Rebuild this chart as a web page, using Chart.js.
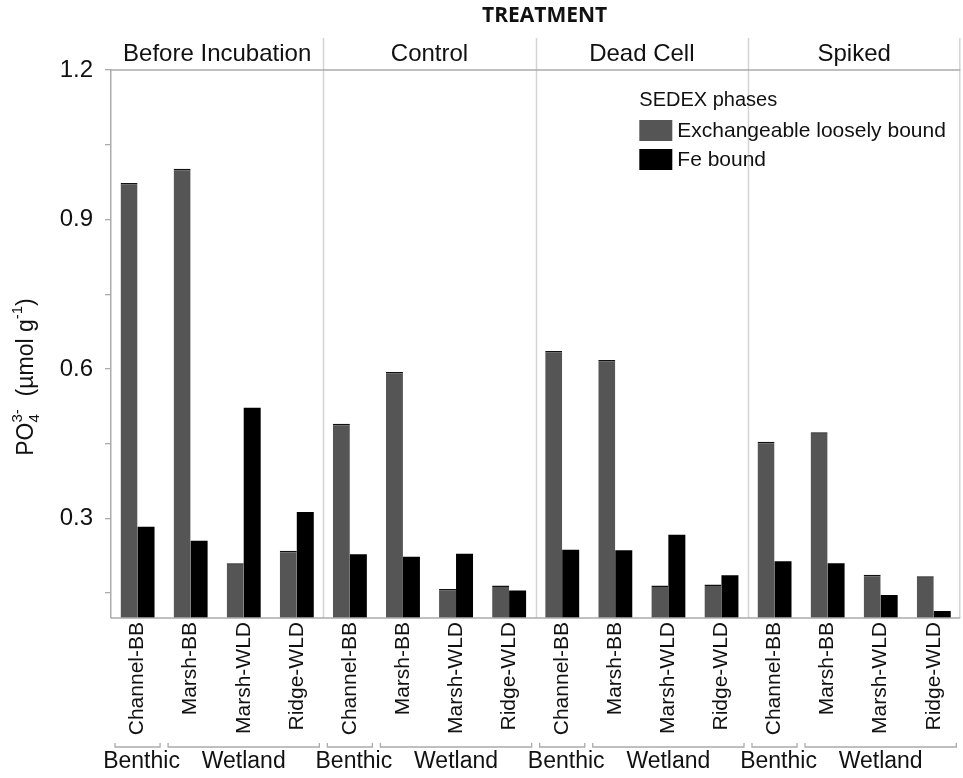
<!DOCTYPE html>
<html>
<head>
<meta charset="utf-8">
<script src="https://cdn.jsdelivr.net/npm/chart.js@4.4.1/dist/chart.umd.min.js"></script>
<style>
  html, body { margin: 0; padding: 0; background: #ffffff; }
  #wrap { width: 963px; height: 778px; position: relative; }
</style>
</head>
<body>
<div id="wrap"><canvas id="chart"></canvas></div>
<script>
// Treatments (facet panels) and sampling sites within each panel
const treatments = ['Before Incubation', 'Control', 'Dead Cell', 'Spiked'];
const sites = ['Channel-BB', 'Marsh-BB', 'Marsh-WLD', 'Ridge-WLD'];
const siteGroups = [['Benthic', 0, 0], ['Wetland', 1, 3]];

// PO4 3- (µmol g-1), ordered treatment by treatment, site by site
const exchangeable = [0.973, 1.002, 0.210, 0.235,
                      0.490, 0.594, 0.158, 0.165,
                      0.636, 0.618, 0.165, 0.167,
                      0.454, 0.473, 0.187, 0.184];
const feBound      = [0.283, 0.255, 0.522, 0.313,
                      0.228, 0.223, 0.229, 0.155,
                      0.237, 0.236, 0.267, 0.186,
                      0.214, 0.210, 0.146, 0.114];

// Y axis: tick marks every 0.15, labels every 0.3
const yTickValues = [0.15, 0.3, 0.45, 0.6, 0.75, 0.9, 1.05, 1.2];
const yTickLabels = ['', '0.3', '', '0.6', '', '0.9', '', '1.2'];

const seriesNames = ['Exchangeable loosely bound', 'Fe bound'];
const legendTitle = 'SEDEX phases';
const mainTitle = 'TREATMENT';

const FONT = '"Liberation Sans", Arial, Helvetica, sans-serif';
const TEXT = '#111111';
const FRAME = '#ababab';
const SEP = '#d4d4d4';

const labels = treatments.flatMap(() => sites);

// Panel frames, strip titles, site-group brackets, legend and y-axis title
const decorations = {
  id: 'decorations',
  afterDatasetsDraw(chart) {
    const { ctx, chartArea: a, scales: { x } } = chart;
    const step = x.getPixelForValue(1) - x.getPixelForValue(0);
    const edge = i => x.getPixelForValue(i) - step / 2;   // left edge of category i
    const n = sites.length;
    const stripTop = a.top - 32;

    ctx.save();
    // panel separators (run up through the strip header)
    ctx.strokeStyle = SEP;
    ctx.lineWidth = 1.5;
    for (let p = 1; p < treatments.length; p++) {
      const xe = Math.round(edge(p * n)) + 0.5;
      ctx.beginPath(); ctx.moveTo(xe, stripTop); ctx.lineTo(xe, a.bottom); ctx.stroke();
    }
    ctx.beginPath(); ctx.moveTo(a.right - 0.5, stripTop); ctx.lineTo(a.right - 0.5, a.bottom); ctx.stroke();

    // top and bottom frame lines
    ctx.strokeStyle = FRAME;
    ctx.lineWidth = 1.5;
    ctx.beginPath(); ctx.moveTo(a.left, a.top); ctx.lineTo(a.right, a.top); ctx.stroke();
    ctx.beginPath(); ctx.moveTo(a.left, a.bottom); ctx.lineTo(a.right, a.bottom); ctx.stroke();

    // strip titles
    ctx.fillStyle = TEXT;
    ctx.font = '24px ' + FONT;
    ctx.textAlign = 'center';
    ctx.textBaseline = 'alphabetic';
    treatments.forEach((t, p) => {
      const cx = (edge(p * n) + edge(p * n + n)) / 2;
      ctx.fillText(t, cx, a.top - 9);
    });

    // main title
    ctx.font = 'bold 21px "Open Sans", ' + FONT;
    ctx.fillText(mainTitle, (a.left + a.right) / 2 + 9, 22);

    // site-group brackets under the tick labels
    const by = 747;
    treatments.forEach((t, p) => {
      siteGroups.forEach(([name, i0, i1]) => {
        const l = edge(p * n + i0) + 4;
        const r = edge(p * n + i1 + 1) - 4;
        ctx.strokeStyle = FRAME;
        ctx.lineWidth = 1.3;
        ctx.beginPath();
        ctx.moveTo(l, by - 4); ctx.lineTo(l, by); ctx.lineTo(r, by); ctx.lineTo(r, by - 4);
        ctx.stroke();
        ctx.fillStyle = TEXT;
        ctx.font = '23px ' + FONT;
        ctx.textAlign = 'center';
        ctx.fillText(name, (l + r) / 2 + (i0 === i1 ? 4 : 0), by + 21);
      });
    });

    // legend
    const lx = a.right - 321;
    ctx.textAlign = 'left';
    ctx.textBaseline = 'middle';
    ctx.font = '20px ' + FONT;
    ctx.fillStyle = TEXT;
    ctx.fillText(legendTitle, lx, a.top + 30);
    chart.data.datasets.forEach((ds, i) => {
      const yTop = a.top + 50 + i * 29;
      ctx.fillStyle = ds.backgroundColor;
      ctx.fillRect(lx, yTop, 33, 21);
      ctx.fillStyle = TEXT;
      ctx.font = '21px ' + FONT;
      ctx.fillText(ds.label, lx + 38, yTop + 11);
    });

    // y-axis title: PO4(3-) (µmol g-1), rotated
    const big = '23px ' + FONT, small = '15px ' + FONT;
    const parts = [
      { t: 'PO', f: big, dy: 0 },
      { t: '4', f: small, dy: 6, stack: true },
      { t: '3-', f: small, dy: -11 },
      { t: '  (\u00b5mol g', f: big, dy: 0 },
      { t: '-1', f: small, dy: -11 },
      { t: ')', f: big, dy: 0 }
    ];
    let total = 0;
    parts.forEach(pt => {
      ctx.font = pt.f;
      pt.w = ctx.measureText(pt.t).width;
      if (!pt.stack) total += pt.w;
    });
    ctx.translate(33, 377);
    ctx.rotate(-Math.PI / 2);
    ctx.fillStyle = TEXT;
    ctx.textBaseline = 'alphabetic';
    let cx = -total / 2;
    parts.forEach(pt => {
      ctx.font = pt.f;
      ctx.fillText(pt.t, cx, pt.dy);
      if (!pt.stack) cx += pt.w;
    });
    ctx.restore();
  }
};

new Chart(document.getElementById('chart'), {
  type: 'bar',
  data: {
    labels: labels,
    datasets: [
      {
        label: seriesNames[0],
        data: exchangeable,
        backgroundColor: '#555555',
        borderColor: '#111111',
        borderWidth: { top: 1.5, left: 0, right: 0, bottom: 0 },
        borderSkipped: 'bottom'
      },
      {
        label: seriesNames[1],
        data: feBound,
        backgroundColor: '#000000',
        borderWidth: 0
      }
    ]
  },
  options: {
    responsive: true,
    maintainAspectRatio: false,
    animation: false,
    layout: { padding: { top: 70, right: 1, left: 0, bottom: 0 } },
    datasets: { bar: { barPercentage: 1.0, categoryPercentage: 0.64 } },
    plugins: {
      legend: { display: false },
      tooltip: { enabled: false },
      title: { display: false }
    },
    scales: {
      x: {
        type: 'category',
        grid: { display: false, drawTicks: false },
        border: { display: false },
        ticks: {
          autoSkip: false,
          minRotation: 90,
          maxRotation: 90,
          padding: 4,
          color: TEXT,
          font: { family: FONT, size: 21 }
        },
        afterFit: s => { s.height = 160; }
      },
      y: {
        min: 0.1,
        max: 1.2,
        afterBuildTicks: s => { s.ticks = yTickValues.map(v => ({ value: v })); },
        grid: { drawOnChartArea: false, color: FRAME, tickLength: 6, lineWidth: 1.3 },
        border: { display: true, color: FRAME, width: 1.5 },
        ticks: {
          padding: 12,
          color: TEXT,
          font: { family: FONT, size: 24 },
          callback: (v, i) => yTickLabels[i]
        },
        afterFit: s => { s.width = 111; }
      }
    }
  },
  plugins: [decorations]
});
</script>
</body>
</html>
